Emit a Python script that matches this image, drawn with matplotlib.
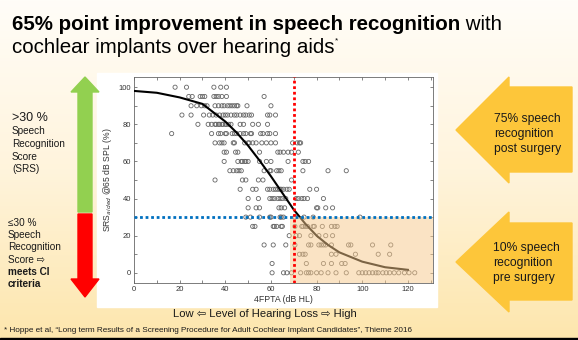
import numpy as np
import matplotlib
matplotlib.use('Agg')
import matplotlib.pyplot as plt
from matplotlib.colors import LinearSegmentedColormap
from matplotlib.patches import Polygon, Rectangle
from matplotlib.ticker import MultipleLocator

plt.rcParams['font.family'] = ['Liberation Sans', 'DejaVu Sans']

# Speech recognition score levels (%) and the 4FPTA (dB HL) of the patients on each level
srs_levels = [100, 95, 90, 85, 80, 75, 70, 65, 60, 55, 50, 45, 40, 35, 30, 25, 20, 15, 10, 5, 0]
fpta_100 = [18, 23, 35, 38, 40.5]
fpta_95 = [24, 25.5, 29, 30, 31, 35, 36, 37, 38.5, 40.5, 57]
fpta_90 = [25, 27.5, 29.5, 31, 32, 35.5, 37, 38.5, 39.5, 41, 42, 43, 44, 45, 45.5, 49.5, 60]
fpta_85 = [21, 25, 30.5, 33, 34.5, 36, 37.5, 39, 40, 41, 42.5, 44, 45, 46.5, 48, 49, 50.5, 51.5,
           58.5, 59.5, 62]
fpta_80 = [28, 32.5, 34, 35.5, 36, 37, 37.5, 38.5, 39, 40, 40.5, 41.5, 42.5, 46.5, 48, 52, 54.5, 58.5]
fpta_75 = [16.5, 34, 37, 38, 40, 40.5, 43, 44, 45, 46.5, 48, 49, 51, 51.5, 55.5, 56.5, 58.5, 59.5, 62]
fpta_70 = [35.5, 37.5, 38.5, 39.5, 43.5, 44, 48.5, 50, 50.5, 52, 53.5, 56, 58, 60, 62, 69.5, 71.5,
           72.5, 73]
fpta_65 = [39.5, 40.5, 44.5, 45.5, 55, 63, 64, 65.5, 67.5, 69, 72]
fpta_60 = [39.5, 45.5, 47, 47.5, 48.5, 49, 50, 55, 58, 60, 67.5, 74, 75, 76.5]
fpta_55 = [42, 43.5, 45, 46, 47, 57, 59.5, 60, 62.5, 63.5, 64.5, 74, 85, 93]
fpta_50 = [35.5, 47.5, 49, 54.5, 56.5, 69]
fpta_45 = [46.5, 52, 53.5, 58.5, 59.5, 61, 62, 63, 64, 64.5, 65.5, 67, 68, 77, 80]
fpta_40 = [50, 54.5, 59.5, 60.5, 61.5, 63, 64, 65, 66.5, 71, 72, 73.5, 74.5, 76, 83]
fpta_35 = [50, 53.5, 55, 63.5, 64.5, 66, 80, 80.5, 84, 87]
fpta_30 = [49, 51, 55, 59.5, 60, 64, 64.5, 65.5, 70.5, 74.5, 78.5, 99]
fpta_25 = [52, 53, 61, 61.5, 62.5, 64.5, 65, 70.5, 73.5, 74, 75, 76, 78.5, 79, 82.5, 86.5, 88, 89]
fpta_20 = [68, 71, 72.5, 77.5, 81, 84, 87]
fpta_15 = [57, 61, 66.5, 70.5, 76.5, 77.5, 81, 82, 83, 84, 86.5, 94, 95, 104.5, 112.5]
fpta_10 = [72.5, 74, 75, 86.5, 88.5, 97, 107, 112]
fpta_5 = [60.5, 75.5, 83, 86.5, 91, 92.5]
fpta_0 = [60.5, 65.5, 67, 69, 73, 75.5, 76.5, 77.5, 80, 82, 85, 88.5, 93, 98.5, 100, 101.5, 103,
          104.5, 106, 107, 109, 110.5, 112, 114, 116, 118.5, 120.5, 123]
fpta_rows = [fpta_100, fpta_95, fpta_90, fpta_85, fpta_80, fpta_75, fpta_70, fpta_65, fpta_60,
             fpta_55, fpta_50, fpta_45, fpta_40, fpta_35, fpta_30, fpta_25, fpta_20, fpta_15,
             fpta_10, fpta_5, fpta_0]

# fitted curve
curve_fpta = [0, 10, 20, 30, 40, 45, 50, 55, 60, 65, 70, 75, 80, 85, 90, 95, 100, 110, 120]
curve_srs = [98, 97, 94.5, 91, 81.5, 75.5, 68.5, 60.5, 52, 43, 34, 26.5, 20, 15, 11, 8.5, 6, 3, 1.6]

# CI criteria thresholds
ci_fpta = 70
ci_srs = 30
shade_from = 68.5

W, H = 578, 340
fig = plt.figure(figsize=(W / 100, H / 100), dpi=100)

# background slide, drawn in pixel coordinates
bg = fig.add_axes([0, 0, 1, 1])
bg.set_xlim(0, W)
bg.set_ylim(H, 0)
bg.axis('off')
cmap = LinearSegmentedColormap.from_list('slide', ['#fffdf8', '#fff4dc', '#fde6ad'])
bg.imshow(np.linspace(0, 1, 200).reshape(-1, 1), cmap=cmap, aspect='auto',
          extent=(0, W, H, 0), zorder=0)
bg.add_patch(Rectangle((0, 338), W, 2, color='black', zorder=1))
bg.add_patch(Rectangle((97, 73), 340, 234, color='white', zorder=1))

# green / red arrows on the left
bg.add_patch(Polygon([(78, 212), (78, 92), (71, 92), (85, 77), (99, 92), (92, 92), (92, 212)],
                     closed=True, color='#92d050', zorder=2))
bg.add_patch(Polygon([(78, 214), (92, 214), (92, 279), (99, 279), (85, 297), (71, 279), (78, 279)],
                     closed=True, color='#ff0000', zorder=2))

# yellow arrows on the right
yellow = '#fdc63a'
bg.add_patch(Polygon([(456, 130), (509, 77), (509, 87), (572, 87), (572, 172), (509, 172), (509, 183)],
                     closed=True, color=yellow, zorder=2))
bg.add_patch(Polygon([(456, 262), (509, 212), (509, 223), (572, 223), (572, 300), (509, 300), (509, 312)],
                     closed=True, color=yellow, zorder=2))

txt = '#1a1a1a'
for i, s in enumerate(['75% speech', 'recognition', 'post surgery']):
    bg.text(494, 119 + 15 * i, s, fontsize=8.7, color=txt, va='center', ha='left', zorder=3)
for i, s in enumerate(['10% speech', 'recognition', 'pre surgery']):
    bg.text(493, 248 + 15 * i, s, fontsize=8.7, color=txt, va='center', ha='left', zorder=3)

# left side labels
bg.text(12, 118, '>30 %', fontsize=9, color=txt, va='center', zorder=3)
for i, s in enumerate(['Speech', 'Recognition', 'Score', '(SRS)']):
    bg.text(12, 131.5 + 12.6 * i, s, fontsize=7.2, color=txt, va='center', zorder=3)
low_lines = ['≤30 %', 'Speech', 'Recognition', 'Score ⇨', 'meets CI', 'criteria']
for i, s in enumerate(low_lines):
    bg.text(8, 223 + 12.2 * i, s, fontsize=7.2, color=txt, va='center', zorder=3,
            fontweight='bold' if i >= 4 else 'normal')

# title
t1 = bg.text(12, 30, '65% point improvement in speech recognition', fontsize=14.8,
             fontweight='bold', color='black', va='baseline', zorder=3)
bg.annotate(' with', xy=(1, 0), xycoords=t1, fontsize=14.8, color='black', va='bottom', zorder=3)
t2 = bg.text(12, 53, 'cochlear implants over hearing aids', fontsize=14.8, color='black',
             va='baseline', zorder=3)
bg.annotate('*', xy=(1, 0.85), xycoords=t2, fontsize=6, color='black', va='center', zorder=3)

bg.text(265, 314, 'Low ⇦ Level of Hearing Loss ⇨ High', fontsize=8.1, color=txt,
        ha='center', va='center', family=['Liberation Sans', 'DejaVu Sans'], zorder=3)
bg.text(4, 331, '* Hoppe et al, \u201cLong term Results of a Screening Procedure for Adult Cochlear '
        'Implant Candidates\u201d, Thieme 2016', fontsize=5.9, color=txt, va='center', zorder=3)

# scatter chart
ax = fig.add_axes([134 / W, 1 - 283 / H, 299 / W, 206 / H])
ax.set_zorder(5)
for level, xs in zip(srs_levels, fpta_rows):
    ax.scatter(xs, [level] * len(xs), s=9, marker='o', facecolors='none',
               edgecolors='#666666', linewidths=0.6, zorder=2)
ax.plot(curve_fpta, curve_srs, color='black', lw=1.5, zorder=3)
ax.axvspan(shade_from, 135, ymin=0, ymax=(ci_srs + 5.5) / 111, color='#f7c88a', alpha=0.5,
           lw=0, zorder=4)
ax.axvline(ci_fpta, color='red', lw=2, ls=(0, (1, 1)), zorder=5)
ax.axhline(ci_srs, color='#0070c0', lw=2, ls=(0, (1, 1)), zorder=5)

ax.set_xlim(0, 131)
ax.set_ylim(-5.5, 105.5)
ax.xaxis.set_major_locator(MultipleLocator(20))
ax.xaxis.set_minor_locator(MultipleLocator(10))
ax.yaxis.set_major_locator(MultipleLocator(20))
ax.yaxis.set_minor_locator(MultipleLocator(10))
ax.tick_params(which='both', direction='in', top=True, right=True, length=2.2, width=0.5,
               color='#555555', labelsize=5.5, labelcolor='#333333', pad=2)
for sp in ax.spines.values():
    sp.set_linewidth(0.6)
    sp.set_color('#666666')
ax.set_xlabel('4FPTA (dB HL)', fontsize=6.3, color='#333333', labelpad=1.5)
ax.set_ylabel('SRS$_{aided}$ @65 dB SPL (%)', fontsize=6.2, color='#333333', labelpad=3.5)

plt.savefig('out.png', dpi=100)
